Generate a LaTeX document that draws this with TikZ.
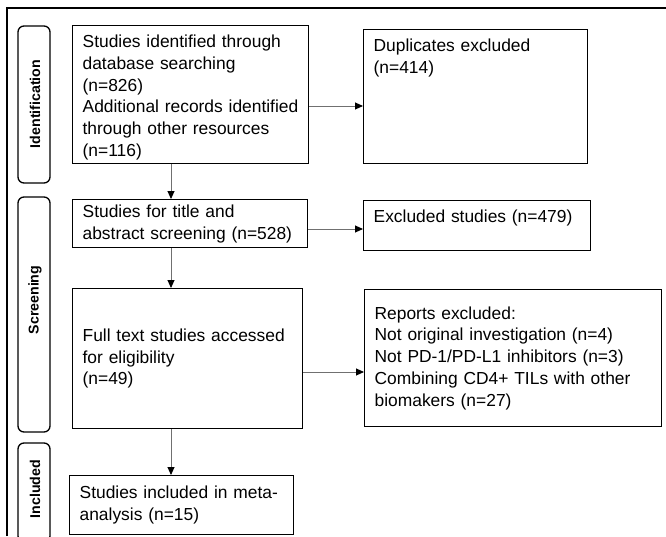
\documentclass[tikz,border=0pt]{standalone}
\usepackage{fontspec}
\setmainfont{Liberation Sans}
\usepackage{tikz}
\usepackage{xcolor}
\usetikzlibrary{arrows.meta}

\definecolor{linegray}{HTML}{707070}
\hyphenpenalty=10000
\exhyphenpenalty=10000

\begin{document}
\begin{tikzpicture}[x=1pt,y=-1pt,
  box/.style={draw, line width=1.3pt, anchor=north west, align=left, inner xsep=10pt, inner ysep=5pt, font=\fontsize{17.4}{21.7}\selectfont},
  toptext/.style={text height=17pt, text depth=#1},
  stage/.style={draw, line width=1.3pt, rounded corners=6pt},
  stagetext/.style={rotate=90, font=\bfseries\fontsize{14.2}{16}\selectfont},
  arr/.style={draw=linegray, line width=0.9pt, -{Triangle[length=8pt,width=7pt,color=black,fill=black]}}]
\useasboundingbox (0,0) rectangle (666,536);
\draw[line width=1.3pt] (7,536) -- (7,8) -- (666,8);

% stages
\draw[stage] (18,26) rectangle (50,183);
\draw[stage] (18,197) rectangle (50,432);
\draw[stage] (18,443) rectangle (50,542);
\node[stagetext] (lident) at (35,104) {Identification};
\node[stagetext] (lscreen) at (35,300) {Screening};
\node[stagetext] (lincl) at (35,489) {Included};

% left column
\node[box, text width=222pt, inner xsep=7pt, toptext=111pt] (ident) at (72,25) {\hspace*{3pt}Studies identified through\\ \hspace*{3pt}database searching\\ \hspace*{3pt}(n=826)\\ \hspace*{3pt}Additional records identified\\ \hspace*{3pt}through other resources\\ \hspace*{3pt}(n=116)};
\node[box, text width=215pt, minimum height=48pt] (screen) at (72,199) {Studies for title and\\ abstract screening (n=528)};
\node[box, text width=210pt, minimum height=140pt] (full) at (72,288) {Full text studies accessed\\ for eligibility\\ (n=49)};
\node[box, text width=204pt, minimum height=59pt] (incl) at (69,475) {Studies included in meta-\\ analysis (n=15)};

% right column
\node[box, text width=204pt, toptext=107pt] (dup) at (363,29) {Duplicates excluded\\ (n=414)};
\node[box, text width=207pt, toptext=23pt] (excl) at (363,200) {Excluded studies (n=479)};
\node[box, text width=277pt, minimum height=137pt] (rep) at (364,289) {Reports excluded:\\ Not original investigation (n=4)\\ Not PD-1/PD-L1 inhibitors (n=3)\\ Combining CD4+ TILs with other\\ biomakers (n=27)};

% arrows
\coordinate (col) at (171,0);
\coordinate (r1) at (0,106);
\coordinate (r2) at (0,229);
\coordinate (r3) at (0,372);
\draw[arr] (ident.south -| col) -- (screen.north -| col);
\draw[arr] (screen.south -| col) -- (full.north -| col);
\draw[arr] (full.south -| col) -- (incl.north -| col);
\draw[arr] (ident.east |- r1) -- (dup.west |- r1);
\draw[arr] (screen.east |- r2) -- (excl.west |- r2);
\draw[arr] (full.east |- r3) -- (rep.west |- r3);
\end{tikzpicture}
\end{document}
